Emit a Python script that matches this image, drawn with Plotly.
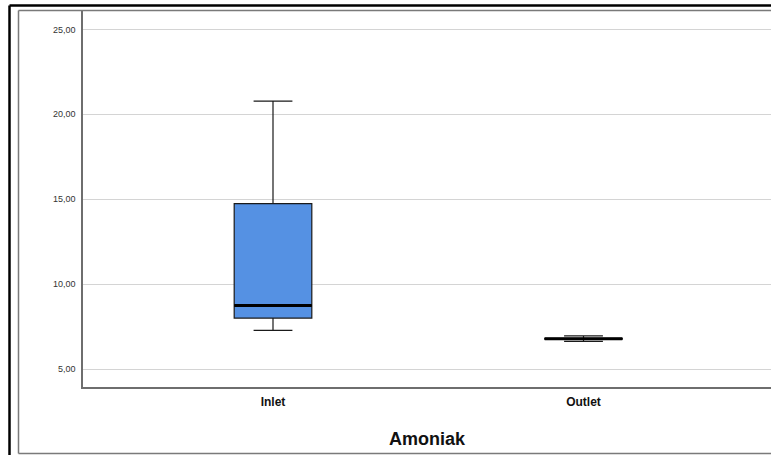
import plotly.graph_objects as go

categories = ["Inlet", "Outlet"]
lower_whisker = [7.27, 6.63]
q1_values = [8.00, 6.76]
median_values = [8.74, 6.78]
q3_values = [14.74, 6.80]
upper_whisker = [20.77, 6.95]
y_tick_values = [5, 10, 15, 20, 25]
y_tick_labels = ["5,00", "10,00", "15,00", "20,00", "25,00"]
axis_title = "Amoniak"

W, H = 771, 456
L, T, B, R = 83, 10, 69, 0
pw, ph = W - L - R, H - T - B

fig = go.Figure()
fig.add_trace(go.Box(
    x=categories, q1=q1_values, median=median_values, q3=q3_values,
    lowerfence=lower_whisker, upperfence=upper_whisker,
    width=0.25, whiskerwidth=0.5, fillcolor="#5591E3",
    line=dict(color="#1a1a1a", width=1.2), boxpoints=False,
    hoverinfo="skip", showlegend=False,
))
# thick median line overlay
fig.add_trace(go.Box(
    x=categories, q1=median_values, median=median_values, q3=median_values,
    lowerfence=median_values, upperfence=median_values,
    width=0.25, whiskerwidth=0, fillcolor="rgba(0,0,0,0)",
    line=dict(color="#000000", width=3), boxpoints=False,
    hoverinfo="skip", showlegend=False,
))

def px_x(p):
    return (p - L) / pw

def px_y(p):
    return 1 - (p - T) / ph

def seg(x0, y0, x1, y1, color, width):
    return dict(type="line", xref="paper", yref="paper",
                x0=px_x(x0), y0=px_y(y0), x1=px_x(x1), y1=px_y(y1),
                line=dict(color=color, width=width), layer="above")

shapes = [
    # outer black frame (left + top)
    seg(9.5, 5.5, 9.5, 455, "#000000", 2.5),
    seg(9.5, 5.5, 771, 5.5, "#000000", 2.5),
    # inner gray frame (left + top + bottom)
    seg(18.5, 10.5, 18.5, 453.5, "#7a7a7a", 1.5),
    seg(18.5, 10.5, 771, 10.5, "#7a7a7a", 1.5),
    seg(18.5, 453.5, 771, 453.5, "#7a7a7a", 1.5),
]

x0_rng = -190 / 310.5
fig.update_layout(
    width=W, height=H,
    margin=dict(l=L, r=R, t=T, b=B, pad=0),
    paper_bgcolor="white", plot_bgcolor="white",
    boxmode="overlay",
    shapes=shapes,
    font=dict(family="Liberation Sans, Arial, sans-serif", color="#000000"),
    xaxis=dict(
        range=[x0_rng, x0_rng + pw / 310.5], showgrid=False, zeroline=False,
        showline=True, linecolor="#6e6e6e", linewidth=1.5,
        ticks="", tickfont=dict(size=12, color="#111111", weight="bold"),
        ticklabelstandoff=3,
        title=dict(text=axis_title, font=dict(size=18, color="#111111", weight="bold"), standoff=24),
    ),
    yaxis=dict(
        range=[3.94, 26.14], showgrid=True, gridcolor="#d4d4d4", gridwidth=1,
        zeroline=False, showline=True, linecolor="#6e6e6e", linewidth=1.5,
        tickvals=y_tick_values, ticktext=y_tick_labels, ticks="",
        tickfont=dict(size=9, color="#333333"), ticklabelstandoff=4,
    ),
)

fig.write_html("out.html")
